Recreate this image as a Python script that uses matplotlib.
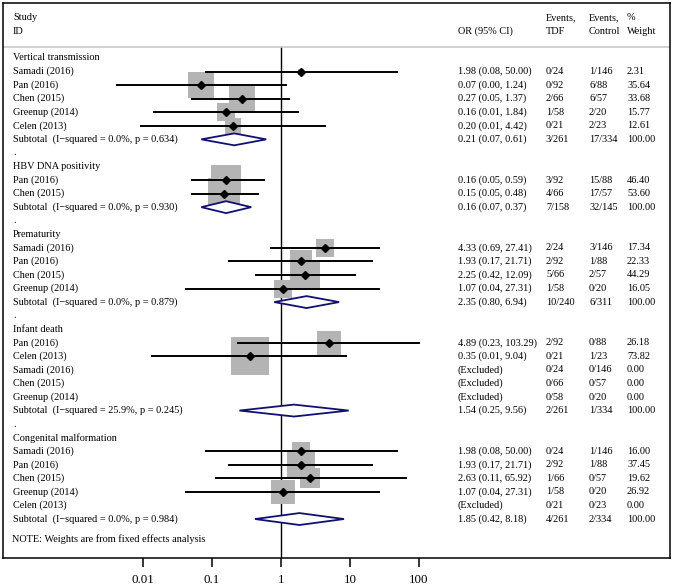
import numpy as np
import matplotlib
matplotlib.use("Agg")
import matplotlib.pyplot as plt
from matplotlib.patches import Polygon
from matplotlib.lines import Line2D

plt.rcParams['font.family'] = ['Liberation Serif', 'DejaVu Serif']

# ---------------- data ----------------
groups = ["Vertical transmission", "HBV DNA positivity", "Prematurity",
          "Infant death", "Congenital malformation"]
group_i2 = [0.0, 0.0, 0.0, 25.9, 0.0]
group_p = [0.634, 0.930, 0.879, 0.245, 0.984]
sub_est = [0.21, 0.16, 2.35, 1.54, 1.85]
sub_lo = [0.07, 0.07, 0.80, 0.25, 0.42]
sub_hi = [0.61, 0.37, 6.94, 9.56, 8.18]
sub_tdf = ["3/261", "7/158", "10/240", "2/261", "4/261"]
sub_ctrl = ["17/334", "32/145", "6/311", "1/334", "2/334"]

study_group = [0, 0, 0, 0, 0,
               1, 1,
               2, 2, 2, 2,
               3, 3, 3, 3, 3,
               4, 4, 4, 4, 4]
study_names = ["Samadi (2016)", "Pan (2016)", "Chen (2015)", "Greenup (2014)", "Celen (2013)",
               "Pan (2016)", "Chen (2015)",
               "Samadi (2016)", "Pan (2016)", "Chen (2015)", "Greenup (2014)",
               "Pan (2016)", "Celen (2013)", "Samadi (2016)", "Chen (2015)", "Greenup (2014)",
               "Samadi (2016)", "Pan (2016)", "Chen (2015)", "Greenup (2014)", "Celen (2013)"]
nan = np.nan
study_est = [1.98, 0.07, 0.27, 0.16, 0.20,
             0.16, 0.15,
             4.33, 1.93, 2.25, 1.07,
             4.89, 0.35, nan, nan, nan,
             1.98, 1.93, 2.63, 1.07, nan]
study_lo = [0.08, 0.004, 0.05, 0.014, 0.009,
            0.05, 0.05,
            0.69, 0.17, 0.42, 0.04,
            0.23, 0.013, nan, nan, nan,
            0.08, 0.17, 0.11, 0.04, nan]
study_hi = [50.00, 1.24, 1.37, 1.84, 4.42,
            0.59, 0.48,
            27.41, 21.71, 12.09, 27.31,
            103.29, 9.04, nan, nan, nan,
            50.00, 21.71, 65.92, 27.31, nan]
study_tdf = ["0/24", "0/92", "2/66", "1/58", "0/21",
             "3/92", "4/66",
             "2/24", "2/92", "5/66", "1/58",
             "2/92", "0/21", "0/24", "0/66", "0/58",
             "0/24", "2/92", "1/66", "1/58", "0/21"]
study_ctrl = ["1/146", "6/88", "6/57", "2/20", "2/23",
              "15/88", "17/57",
              "3/146", "1/88", "2/57", "0/20",
              "0/88", "1/23", "0/146", "0/57", "0/20",
              "1/146", "1/88", "0/57", "0/20", "0/23"]
study_weight = [2.31, 35.64, 33.68, 15.77, 12.61,
                46.40, 53.60,
                17.34, 22.33, 44.29, 16.05,
                26.18, 73.82, 0.00, 0.00, 0.00,
                16.00, 37.45, 19.62, 26.92, 0.00]

xticks = [0.01, 0.1, 1, 10, 100]
xtick_labels = ["0.01", "0.1", "1", "10", "100"]

# ---------------- figure ----------------
W, H, DPI = 675, 585, 100
fig = plt.figure(figsize=(W / DPI, H / DPI), dpi=DPI)

L, R, T, B = 3, 670, 3, 558
ax = fig.add_axes([L / W, (H - B) / H, (R - L) / W, (B - T) / H])
ax.set_xscale('log')
px1, ppd = 281.0, 69.0
ax.set_xlim(10 ** ((L - px1) / ppd), 10 ** ((R - px1) / ppd))
y0, dy = 58.0, 13.56
ax.set_ylim((B - y0) / dy, (T - y0) / dy)

for sp in ax.spines.values():
    sp.set_linewidth(1.1)
ax.set_yticks([])
ax.set_xticks(xticks)
ax.set_xticklabels(xtick_labels, fontsize=9.4)
ax.minorticks_off()
ax.tick_params(axis='x', direction='out', length=6.5, width=1.1, pad=5)

FS = 7.4
tr = ax.get_yaxis_transform()


def fx(px):
    return (px - L) / (R - L)


x_lab, x_or, x_tdf, x_ctrl, x_w = 13, 458, 546, 589, 627
text_kw = dict(fontsize=FS, va='center', ha='left', transform=tr)

# header
ax.text(fx(x_lab), -2.98, "Study", **text_kw)
ax.text(fx(x_lab), -1.97, "ID", **text_kw)
ax.text(fx(x_or), -1.97, "OR (95% CI)", **text_kw)
ax.text(fx(x_tdf), -2.98, "Events,", **text_kw)
ax.text(fx(x_tdf), -1.97, "TDF", **text_kw)
ax.text(fx(x_ctrl), -2.98, "Events,", **text_kw)
ax.text(fx(x_ctrl), -1.97, "Control", **text_kw)
ax.text(fx(x_w), -2.98, "%", **text_kw)
ax.text(fx(x_w), -1.97, "Weight", **text_kw)
hdr_y = (47 - y0) / dy
ax.add_line(Line2D([0, 1], [hdr_y, hdr_y], transform=tr, color='#c8c8c8', lw=1.2))

# null line
ax.plot([1, 1], [hdr_y, (B - y0) / dy + 0.5], color='black', lw=1.0, zorder=1, clip_on=True)

BOX_K = 4.5  # px per sqrt(weight)
CI_COLOR = 'black'
DIA_COLOR = '#101070'

row = 0
for g, gname in enumerate(groups):
    ax.text(fx(x_lab), row, gname, **text_kw)
    row += 1
    for k in [i for i, sg in enumerate(study_group) if sg == g]:
        ax.text(fx(x_lab), row, study_names[k], **text_kw)
        e, lo, hi = study_est[k], study_lo[k], study_hi[k]
        if np.isnan(e):
            ax.text(fx(x_or), row, "(Excluded)", **text_kw)
        else:
            side_pt = BOX_K * np.sqrt(study_weight[k]) * 72 / DPI
            ax.scatter([e], [row], s=side_pt ** 2, marker='s', color='#b4b4b4',
                       linewidths=0, zorder=2)
            ax.plot([lo, hi], [row, row], color=CI_COLOR, lw=1.4, zorder=3,
                    solid_capstyle='butt')
            ax.plot([e], [row], marker='D', color='black', markersize=3.6, zorder=4)
            ax.text(fx(x_or), row, f"{e:.2f} ({lo:.2f}, {hi:.2f})", **text_kw)
        ax.text(fx(x_tdf), row, study_tdf[k], **text_kw)
        ax.text(fx(x_ctrl), row, study_ctrl[k], **text_kw)
        ax.text(fx(x_w), row, f"{study_weight[k]:.2f}", **text_kw)
        row += 1
    # subtotal
    ax.text(fx(x_lab), row,
            f"Subtotal  (I\u2212squared = {group_i2[g]:.1f}%, p = {group_p[g]:.3f})", **text_kw)
    h = 0.44
    dia = Polygon([(sub_lo[g], row), (sub_est[g], row - h), (sub_hi[g], row),
                   (sub_est[g], row + h)], closed=True, facecolor='white',
                  edgecolor=DIA_COLOR, lw=1.3, zorder=5)
    ax.add_patch(dia)
    ax.text(fx(x_or), row, f"{sub_est[g]:.2f} ({sub_lo[g]:.2f}, {sub_hi[g]:.2f})", **text_kw)
    ax.text(fx(x_tdf), row, sub_tdf[g], **text_kw)
    ax.text(fx(x_ctrl), row, sub_ctrl[g], **text_kw)
    ax.text(fx(x_w), row, "100.00", **text_kw)
    row += 1
    if g < len(groups) - 1:
        ax.text(fx(x_lab), row, ".", **text_kw)
        row += 1

ax.text(fx(x_lab) - 0.001, row + 0.45, "NOTE: Weights are from fixed effects analysis", **text_kw)

fig.savefig("out.png", dpi=DPI)
